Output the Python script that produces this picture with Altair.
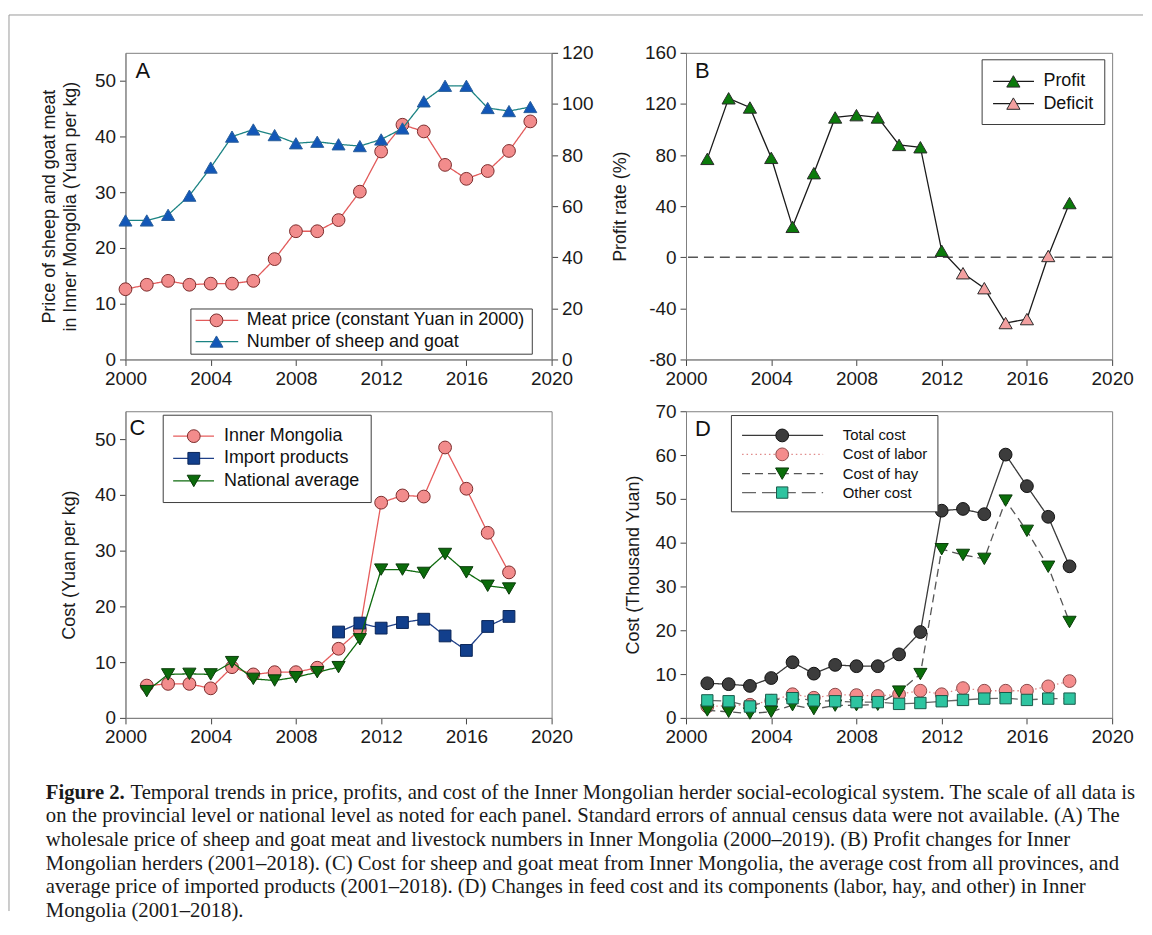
import altair as alt
import pandas as pd

# ---------------- data ----------------
years_a = [2000, 2001, 2002, 2003, 2004, 2005, 2006, 2007, 2008, 2009,
           2010, 2011, 2012, 2013, 2014, 2015, 2016, 2017, 2018, 2019]
meat_price = [12.6, 13.4, 14.1, 13.4, 13.6, 13.6, 14.1, 18.0, 23.0, 23.0,
              25.0, 30.1, 37.3, 42.1, 40.9, 34.9, 32.4, 33.8, 37.4, 42.7]
sheep_goat_number = [54.4, 54.4, 56.6, 64.1, 75.1, 87.2, 90.0, 87.8, 84.6, 85.2,
                     84.2, 83.5, 86.1, 90.4, 101.0, 107.1, 107.1, 98.4, 97.2, 98.8]

years_b = [2001, 2002, 2003, 2004, 2005, 2006, 2007, 2008, 2009,
           2010, 2011, 2012, 2013, 2014, 2015, 2016, 2017, 2018]
profit_rate = [77.0, 124.4, 117.2, 77.8, 23.8, 65.8, 109.4, 111.2, 109.4,
               87.9, 86.1, 5.1, -12.5, -24.2, -51.5, -48.4, 1.0, 42.4]
profit_status = ["Profit", "Profit", "Profit", "Profit", "Profit", "Profit", "Profit", "Profit", "Profit",
                 "Profit", "Profit", "Profit", "Deficit", "Deficit", "Deficit", "Deficit", "Deficit", "Profit"]

years_c = years_b
cost_inner_mongolia = [5.8, 6.1, 6.1, 5.3, 9.1, 7.8, 8.2, 8.2, 9.0,
                       12.4, 15.8, 38.6, 39.9, 39.7, 48.5, 41.1, 33.2, 26.1]
years_import = [2010, 2011, 2012, 2013, 2014, 2015, 2016, 2017, 2018]
cost_import = [15.4, 17.0, 16.1, 17.1, 17.7, 14.7, 12.1, 16.4, 18.2]
cost_national = [4.8, 7.8, 7.9, 7.8, 10.0, 7.0, 6.7, 7.3, 8.2,
                 9.1, 14.1, 26.6, 26.6, 26.0, 29.4, 26.1, 23.7, 23.2]

years_d = years_b
total_cost = [7.9, 7.7, 7.3, 9.1, 12.7, 10.1, 12.1, 11.8, 11.8,
              14.5, 19.6, 47.3, 47.7, 46.5, 60.1, 52.9, 45.9, 34.6]
labor_cost = [2.6, 2.8, 3.0, 3.9, 5.4, 4.6, 5.3, 5.2, 5.0,
              5.4, 6.2, 5.4, 6.8, 6.2, 6.2, 6.2, 7.2, 8.4]
hay_cost = [1.7, 1.4, 1.0, 1.4, 2.9, 2.0, 2.8, 2.9, 3.0,
            6.0, 10.0, 38.5, 37.2, 36.3, 49.6, 42.7, 34.5, 21.9]
other_cost = [4.0, 3.8, 2.6, 4.1, 4.5, 4.0, 3.8, 3.6, 3.6,
              3.2, 3.4, 3.8, 4.1, 4.4, 4.5, 4.1, 4.4, 4.4]

x_ticks = [2000, 2004, 2008, 2012, 2016, 2020]
ticks_a_left = [0, 10, 20, 30, 40, 50]
ticks_a_right = [0, 20, 40, 60, 80, 100, 120]
ticks_b = [-80, -40, 0, 40, 80, 120, 160]
ticks_c = [0, 10, 20, 30, 40, 50]
ticks_d = [0, 10, 20, 30, 40, 50, 60, 70]

caption_bold = "Figure 2."
caption_first = ("Temporal trends in price, profits, and cost of the Inner Mongolian herder "
                 "social-ecological system. The scale of all data is")
caption_rest = [
    "on the provincial level or national level as noted for each panel. Standard errors of annual census data were not available. (A) The",
    "wholesale price of sheep and goat meat and livestock numbers in Inner Mongolia (2000\u20132019). (B) Profit changes for Inner",
    "Mongolian herders (2001\u20132018). (C) Cost for sheep and goat meat from Inner Mongolia, the average cost from all provinces, and",
    "average price of imported products (2001\u20132018). (D) Changes in feed cost and its components (labor, hay, and other) in Inner",
    "Mongolia (2001\u20132018).",
]

# ---------------- helpers ----------------
SANS = "Liberation Sans"
SERIF = "Liberation Serif"
W, H = 428, 308
ONE = pd.DataFrame({"k": [0]})
PLAIN_LABEL = "'' + datum.value"


def xenc():
    return alt.X("year:Q",
                 scale=alt.Scale(domain=[2000, 2020], nice=False, zero=False),
                 axis=alt.Axis(values=x_ticks, labelExpr=PLAIN_LABEL, title=None))


def yenc(domain, ticks, title, orient="left", pad=15):
    return alt.Y("value:Q",
                 scale=alt.Scale(domain=domain, nice=False, zero=False),
                 axis=alt.Axis(values=ticks, orient=orient, title=title, titlePadding=pad,
                               labelExpr=PLAIN_LABEL))


def series(yrs, vals, y, line_color, dash, shape, size, fill, stroke, sw=1.3):
    df = pd.DataFrame({"year": yrs, "value": vals})
    base = alt.Chart(df).encode(x=xenc(), y=y)
    line = base.mark_line(color=line_color, strokeWidth=sw, strokeDash=dash)
    pts = base.mark_point(shape=shape, size=size, filled=True, fill=fill,
                          stroke=stroke, strokeWidth=1, opacity=1)
    return [line, pts]


def legend(entries, box, line_x, sym_x, text_x, font_size):
    x1, y1, x2, y2 = box
    layers = [alt.Chart(ONE).mark_rect(fill="white", stroke="#3c3c3c", strokeWidth=1).encode(
        x=alt.value(x1), x2=alt.value(x2), y=alt.value(y1), y2=alt.value(y2))]
    for e in entries:
        yy = e["y"]
        layers.append(alt.Chart(ONE).mark_rule(color=e["line"], strokeWidth=1.3, strokeDash=e["dash"]).encode(
            x=alt.value(line_x[0]), x2=alt.value(line_x[1]), y=alt.value(yy)))
        layers.append(alt.Chart(ONE).mark_point(shape=e["shape"], size=e["size"], filled=True, fill=e["fill"],
                                                stroke=e["stroke"], strokeWidth=1, opacity=1).encode(
            x=alt.value(sym_x), y=alt.value(yy)))
        layers.append(alt.Chart(ONE).mark_text(text=e["label"], align="left", baseline="middle", font=SANS,
                                               fontSize=font_size, color="#111111").encode(
            x=alt.value(text_x), y=alt.value(yy)))
    return layers


def letter(t, x, y):
    return alt.Chart(ONE).mark_text(text=t, font=SANS, fontSize=22, align="center", baseline="middle",
                                    color="#111111").encode(x=alt.value(x), y=alt.value(y))


SOLID = [1, 0]

# ---------------- panel A ----------------
col_meat_line, col_meat_fill, col_meat_stroke = "#e25b5b", "#f28c8c", "#7a2c2c"
col_sheep_line, col_sheep_fill, col_sheep_stroke = "#1b8383", "#1257b8", "#2a5f9a"

ya_left = yenc([0, 55], ticks_a_left, ["Price of sheep and goat meat", "in Inner Mongolia (Yuan per kg)"], pad=15)
ya_right = yenc([0, 120], ticks_a_right, None, orient="right", pad=10)

left_a = alt.layer(*series(years_a, meat_price, ya_left, col_meat_line, SOLID, "circle", 165,
                           col_meat_fill, col_meat_stroke))
right_a = alt.layer(*series(years_a, sheep_goat_number, ya_right, col_sheep_line, SOLID, "triangle-up", 170,
                            col_sheep_fill, col_sheep_stroke))
legend_a = legend([
    {"y": 268.7, "label": "Meat price (constant Yuan in 2000)", "line": col_meat_line, "dash": SOLID,
     "shape": "circle", "size": 165, "fill": col_meat_fill, "stroke": col_meat_stroke},
    {"y": 290, "label": "Number of sheep and goat", "line": col_sheep_line, "dash": SOLID,
     "shape": "triangle-up", "size": 170, "fill": col_sheep_fill, "stroke": col_sheep_stroke},
], (65.7, 257.3, 408.6, 302.7), (70.4, 113.2), 91.4, 121.8, 18)

border = [
    alt.Chart(ONE).mark_rule(color="#9a9a9a", strokeWidth=1).encode(
        x=alt.value(-117), x2=alt.value(1022), y=alt.value(-38)),
    alt.Chart(ONE).mark_rule(color="#9a9a9a", strokeWidth=1).encode(
        x=alt.value(-117), y=alt.value(-38), y2=alt.value(862)),
]

panel_a = alt.layer(left_a, right_a, *legend_a, letter("A", 17.5, 18.3), *border).resolve_scale(
    y="independent").properties(width=W, height=H)

# ---------------- panel B ----------------
col_profit, col_deficit = "#0b7a0b", "#f2a0a0"
yb = yenc([-80, 160], ticks_b, "Profit rate (%)", pad=15)
df_b = pd.DataFrame({"year": years_b, "value": profit_rate, "status": profit_status})
zero_b = alt.Chart(pd.DataFrame({"value": [0]})).mark_rule(color="#555555", strokeWidth=1.3,
                                                           strokeDash=[10, 6]).encode(y=yb)
line_b = alt.Chart(df_b).mark_line(color="#1a1a1a", strokeWidth=1.3).encode(x=xenc(), y=yb)
pts_b = alt.Chart(df_b).mark_point(shape="triangle-up", size=175, filled=True, stroke="#2a2a2a",
                                   strokeWidth=1, opacity=1).encode(
    x=xenc(), y=yb,
    fill=alt.Fill("status:N", scale=alt.Scale(domain=["Profit", "Deficit"], range=[col_profit, col_deficit]),
                  legend=None))
legend_b = legend([
    {"y": 28.7, "label": "Profit", "line": "#1a1a1a", "dash": SOLID, "shape": "triangle-up", "size": 175,
     "fill": col_profit, "stroke": "#2a2a2a"},
    {"y": 51, "label": "Deficit", "line": "#1a1a1a", "dash": SOLID, "shape": "triangle-up", "size": 175,
     "fill": col_deficit, "stroke": "#2a2a2a"},
], (297.4, 7, 420.6, 72), (308.4, 349.5), 328.8, 359, 18)
panel_b = alt.layer(zero_b, line_b, pts_b, *legend_b, letter("B", 16.3, 18.7)).properties(width=W, height=H)

# ---------------- panel C ----------------
col_im_line, col_im_fill, col_im_stroke = "#e65c5c", "#f28c8c", "#7a2c2c"
col_imp_line, col_imp_fill, col_imp_stroke = "#1f4088", "#123f8c", "#0a2558"
col_nat_line, col_nat_fill, col_nat_stroke = "#0d6a0d", "#0b6b0b", "#0a3a0a"
yc = yenc([0, 55], ticks_c, "Cost (Yuan per kg)", pad=16)
layers_c = (series(years_c, cost_inner_mongolia, yc, col_im_line, SOLID, "circle", 165, col_im_fill, col_im_stroke)
            + series(years_import, cost_import, yc, col_imp_line, SOLID, "square", 140, col_imp_fill, col_imp_stroke)
            + series(years_c, cost_national, yc, col_nat_line, SOLID, "triangle-down", 175, col_nat_fill,
                     col_nat_stroke))
legend_c = legend([
    {"y": 25, "label": "Inner Mongolia", "line": col_im_line, "dash": SOLID, "shape": "circle", "size": 165,
     "fill": col_im_fill, "stroke": col_im_stroke},
    {"y": 47.3, "label": "Import products", "line": col_imp_line, "dash": SOLID, "shape": "square", "size": 140,
     "fill": col_imp_fill, "stroke": col_imp_stroke},
    {"y": 70, "label": "National average", "line": col_nat_line, "dash": SOLID, "shape": "triangle-down",
     "size": 175, "fill": col_nat_fill, "stroke": col_nat_stroke},
], (37.9, 4, 246.8, 91.7), (47.9, 88.9), 68.6, 98.9, 18)
panel_c = alt.layer(*layers_c, *legend_c, letter("C", 12.1, 16.7)).properties(width=W, height=H)

# ---------------- panel D ----------------
col_tot_line, col_tot_fill, col_tot_stroke = "#3a3a3a", "#3c3c3c", "#111111"
col_lab_line, col_lab_fill, col_lab_stroke = "#e08a8a", "#f48c8c", "#8a4a4a"
col_hay_line, col_hay_fill, col_hay_stroke = "#555555", "#0a6e0a", "#0a3a0a"
col_oth_line, col_oth_fill, col_oth_stroke = "#666666", "#2ec4a0", "#1a5a4a"
DOT, DASH, LONGDASH = [1.5, 3], [8, 5], [14, 6]
yd = yenc([0, 70], ticks_d, "Cost (Thousand Yuan)", pad=13)
layers_d = (series(years_d, total_cost, yd, col_tot_line, SOLID, "circle", 165, col_tot_fill, col_tot_stroke)
            + series(years_d, labor_cost, yd, col_lab_line, DOT, "circle", 165, col_lab_fill, col_lab_stroke)
            + series(years_d, hay_cost, yd, col_hay_line, DASH, "triangle-down", 175, col_hay_fill, col_hay_stroke)
            + series(years_d, other_cost, yd, col_oth_line, LONGDASH, "square", 130, col_oth_fill, col_oth_stroke))
legend_d = legend([
    {"y": 24.3, "label": "Total cost", "line": col_tot_line, "dash": SOLID, "shape": "circle", "size": 165,
     "fill": col_tot_fill, "stroke": col_tot_stroke},
    {"y": 43.3, "label": "Cost of labor", "line": col_lab_line, "dash": DOT, "shape": "circle", "size": 165,
     "fill": col_lab_fill, "stroke": col_lab_stroke},
    {"y": 62.7, "label": "Cost of hay", "line": col_hay_line, "dash": DASH, "shape": "triangle-down", "size": 175,
     "fill": col_hay_fill, "stroke": col_hay_stroke},
    {"y": 81.7, "label": "Other cost", "line": col_oth_line, "dash": LONGDASH, "shape": "square", "size": 130,
     "fill": col_oth_fill, "stroke": col_oth_stroke},
], (45.6, 4.3, 253, 101), (56.3, 137.7), 96.6, 157.4, 15)
panel_d = alt.layer(*layers_d, *legend_d, letter("D", 17, 18.3)).properties(width=W, height=H)

# ---------------- caption ----------------
CAP_X, CAP_Y, CAP_LH, CAP_FS = -80, 23, 23.8, 20.8
cap_layers = [
    alt.Chart(ONE).mark_text(text=caption_bold, font=SERIF, fontSize=CAP_FS, fontWeight="bold", align="left",
                             baseline="middle", color="#1a1a1a").encode(x=alt.value(CAP_X), y=alt.value(CAP_Y)),
    alt.Chart(ONE).mark_text(text=caption_first, font=SERIF, fontSize=CAP_FS, align="left",
                             baseline="middle", color="#1a1a1a").encode(x=alt.value(CAP_X + 85), y=alt.value(CAP_Y)),
]
for i, line_text in enumerate(caption_rest):
    cap_layers.append(alt.Chart(ONE).mark_text(text=line_text, font=SERIF, fontSize=CAP_FS, align="left",
                                               baseline="middle", color="#1a1a1a").encode(
        x=alt.value(CAP_X), y=alt.value(CAP_Y + CAP_LH * (i + 1))))
caption = alt.layer(*cap_layers).properties(width=W, height=140,
                                            view=alt.ViewBackground(stroke="transparent"))

chart = alt.concat(panel_a, panel_b, panel_c, panel_d, caption, columns=2,
                   spacing={"row": 52, "column": 135}, bounds="flush").properties(
    padding={"left": 0, "top": 4, "right": 0, "bottom": 0}, background="white"
).configure_view(stroke="#808080", strokeWidth=1).configure_axis(
    labelFont=SANS, titleFont=SANS, labelFontSize=19, titleFontSize=18, titleFontWeight="normal",
    labelColor="#1a1a1a", titleColor="#1a1a1a", tickColor="#444444", domainColor="#808080",
    tickSize=6, labelPadding=4, grid=False, titleLineHeight=21, labelFlush=False)

chart.save("out.html", embed_options={"renderer": "svg", "actions": False})
